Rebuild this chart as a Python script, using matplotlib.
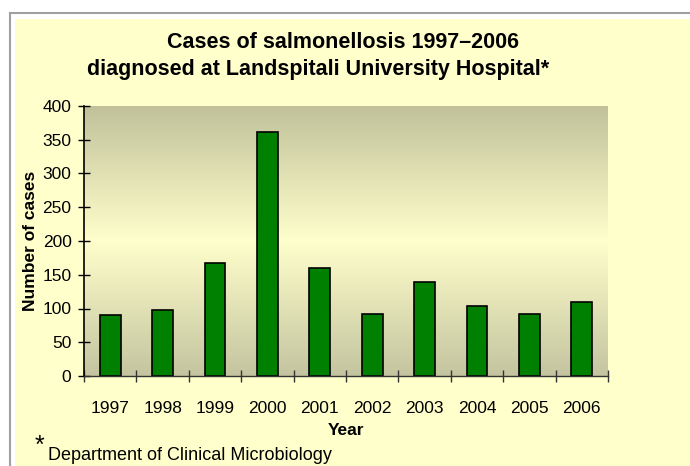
import numpy as np
import matplotlib
matplotlib.use('Agg')
import matplotlib.pyplot as plt
from matplotlib.colors import LinearSegmentedColormap
from matplotlib.patches import Rectangle
from matplotlib.lines import Line2D

# data
years = ['1997', '1998', '1999', '2000', '2001', '2002', '2003', '2004', '2005', '2006']
cases = [90, 98, 167, 361, 160, 92, 140, 104, 92, 110]
y_ticks = [0, 50, 100, 150, 200, 250, 300, 350, 400]

W, H = 690, 466
plt.rcParams['font.family'] = ['Liberation Sans', 'DejaVu Sans']

fig = plt.figure(figsize=(W / 100, H / 100), dpi=100)
fig.patch.set_facecolor('white')

# framed yellow panel with grey edge at top/left
fig.add_artist(Rectangle((15 / W, 0), 1, 1 - 19 / H, transform=fig.transFigure,
                         facecolor='#FFFFCC', edgecolor='none', zorder=0))
fig.add_artist(Line2D([10 / W, 1], [1 - 13 / H, 1 - 13 / H], transform=fig.transFigure,
                      color='#A0A0A0', lw=1.5))
fig.add_artist(Line2D([10 / W, 10 / W], [0, 1 - 13 / H], transform=fig.transFigure,
                      color='#A0A0A0', lw=1.5))

ax = fig.add_axes([84 / W, (H - 376) / H, (608 - 84) / W, (376 - 106) / H])
ax.set_facecolor('none')

# gradient plot area: olive at the edges, pale yellow in the middle
cmap = LinearSegmentedColormap.from_list('bg', [(0.0, '#C4C4A0'), (0.5, '#FFFFCC'), (1.0, '#C0C19A')])
grad = np.linspace(0, 1, 256).reshape(-1, 1)
ax.imshow(grad, cmap=cmap, aspect='auto', origin='lower', extent=[0, 1, 0, 1],
          transform=ax.transAxes, zorder=0)

x = np.arange(len(years))
ax.bar(x, cases, width=0.4, color='#008000', edgecolor='black', linewidth=1.2, zorder=2)

ax.set_xlim(-0.5, len(years) - 0.5)
ax.set_ylim(0, 400)
ax.set_yticks(y_ticks)
ax.set_xticks(x)
ax.set_xticklabels(years)
ax.set_xticks(np.arange(-0.5, len(years), 1), minor=True)
ax.tick_params(axis='x', which='major', length=0, pad=18, labelsize=12.5)
ax.tick_params(axis='x', which='minor', direction='inout', length=9, width=1, color='#333333')
ax.tick_params(axis='y', direction='inout', length=8, width=1, pad=5, labelsize=12.5)

for s in ['top', 'right']:
    ax.spines[s].set_visible(False)
ax.spines['left'].set_linewidth(1.2)
ax.spines['bottom'].set_color('#333333')
ax.spines['bottom'].set_linewidth(1)

ax.set_xlabel('Year', fontsize=12.5, fontweight='bold', labelpad=5)
ax.set_ylabel('Number of cases', fontsize=12.5, fontweight='bold', labelpad=3)

fig.text(343 / W, 1 - 42 / H, 'Cases of salmonellosis 1997\u20132006', ha='center', va='center',
         fontsize=15.5, fontweight='bold')
fig.text(318 / W, 1 - 69 / H, 'diagnosed at Landspitali University Hospital*', ha='center', va='center',
         fontsize=15.5, fontweight='bold')

fig.text(35 / W, 1 - 446 / H, '*', ha='left', va='center', fontsize=18)
fig.text(48 / W, 1 - 455 / H, 'Department of Clinical Microbiology', ha='left', va='center', fontsize=13)

fig.savefig('out.png', dpi=100)
